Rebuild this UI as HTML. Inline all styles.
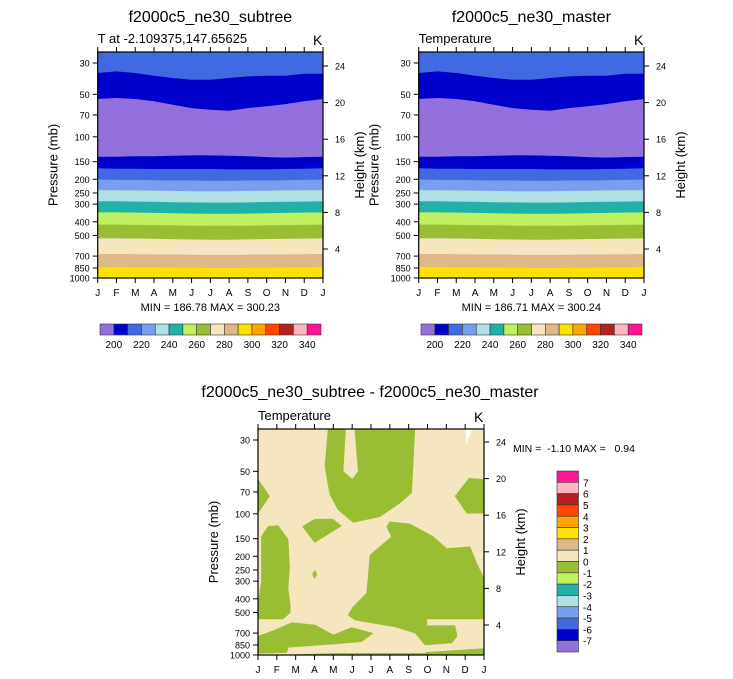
<!DOCTYPE html>
<html><head><meta charset="utf-8">
<style>
html,body{margin:0;padding:0;background:#fff;}
svg{display:block;font-family:"Liberation Sans",Arial,sans-serif;}
</style></head>
<body>
<svg id="chart" width="733" height="679" viewBox="0 0 733 679" xmlns="http://www.w3.org/2000/svg"></svg>
<script>
// ---------- data ----------
const months = ["J","F","M","A","M","J","J","A","S","O","N","D","J"];
const pressureTicks = [30,50,70,100,150,200,250,300,400,500,700,850,1000];
const heightTicks = [24,20,16,12,8,4];
// temperature contour boundaries (pressure, mb) at each month for the climatology panels
const bnd210top = [35.5,34.6,35.5,37.1,38.5,39.6,39.6,38.5,37.5,37.1,37.1,35.9,35.9];
const bnd200top = [54.2,53.4,54.2,56.3,59.6,62.9,64.7,65.7,62.9,61.1,58.9,56.3,54.2];
const bnd200bot = [139,139,138,138,137,136,136,137,138,140,141,140,139];
const bnd210bot = [168,169,169,170,170,170,170,171,171,171,170,169,168];
const bnd220 = [202,203,203,204,205,205,206,206,205,205,204,203,202];
const bnd230 = [240,240,241,242,243,244,244,244,243,242,241,240,240];
const bnd240 = [288,288,289,290,292,293,294,294,293,291,290,289,288];
const bnd250 = [345,345,346,348,350,352,353,353,352,350,348,346,345];
const bnd260 = [421,421,422,424,426,428,429,429,428,426,424,422,421];
const bnd270 = [527,527,528,531,534,537,538,538,536,533,531,529,527];
const bnd280 = [680,680,682,684,686,688,690,690,688,686,684,682,680];
const bnd290 = [841,841,843,846,849,852,855,856,853,850,847,844,841];
const colorbarLevels = [200,210,220,230,240,250,260,270,280,290,300,310,320,330,340];
const colorbarLabels = [200,220,240,260,280,300,320,340];
const diffLabels = [7,6,5,4,3,2,1,0,-1,-2,-3,-4,-5,-6,-7];
// difference panel: regions below 0 (month index, pressure mb)
const diffNegA = [[3.72,25],[4.65,25],[4.52,50],[5.02,57],[5.32,50],[5.14,25],[8.33,25],[8.16,71],[7.54,84],[6.47,105],[5.05,115],[4.26,94],[3.81,73],[3.55,46]];
const diffNegB = [[0,57],[0.62,75],[0,99]];
const diffNegC = [[12,57],[11.2,56],[10.46,75],[11.08,99],[12,99]];
const diffNegD = [[2.36,123],[3.01,109],[3.99,109],[4.43,122],[3.01,160]];
const diffNegE = [[0.18,145],[0.53,123],[1.06,121],[1.6,151],[1.68,237],[1.6,337],[1.72,455],[1.7,504],[1.33,556],[0,556],[0,450],[0.18,300]];
const diffNegF = [[3.01,250],[2.89,268],[3.01,288],[3.13,268]];
const diffNegG = [[7.0,114],[8.07,118],[9.31,145],[10.02,176],[11.26,171],[11.61,224],[12,286],[12,556],[8.97,556],[8.97,620],[10.46,620],[10.57,736],[10.3,822],[8.87,851],[8.34,700],[7.28,633],[5.15,566],[4.78,522],[5.05,455],[5.76,366],[5.85,279],[5.94,196],[7.09,145],[6.83,123]];
const diffNegH = [[0,736],[0.9,666],[1.79,590],[3.03,613],[4.0,721],[4.97,639],[6.12,701],[5.5,805],[4.09,836],[1.61,883],[1.52,963],[0,974]];
const diffNegI = [[8.9,1000],[8.9,960],[12,900],[12,1000]];
const diffNegJ = [[1.5,1000],[4,975],[8.9,975],[8.9,1000]];
const diffMissing = [[11.04,25],[11.4,25],[11.05,32]];

// ---------- drawing ----------
const NS="http://www.w3.org/2000/svg";
const svg=document.getElementById('chart');
const COLORS=["#9370DB","#0000CD","#4169E1","#7A9EEE","#B0E0E6","#20B2AA","#C0F060","#99BE33","#F5E6C0","#DEB887","#FFE000","#FFA500","#FF4500","#B22222","#FFB6C1","#FF1493"];
const PTOP=25.07;
function el(tag,attrs,parent){const e=document.createElementNS(NS,tag);for(const k in attrs)e.setAttribute(k,attrs[k]);(parent||svg).appendChild(e);return e;}
function txt(s,x,y,size,anchor,parent,rot){const t=el('text',{x:x,y:y,'font-size':size,'text-anchor':anchor||'start',fill:'#000'},parent);if(rot)t.setAttribute('transform','rotate('+rot+' '+x+' '+y+')');t.textContent=s;return t;}

function makePanel(P){
  P.xM=m=>P.x0+m*(P.x1-P.x0)/12;
  P.yP=p=>{const q=Math.max(p,PTOP);return P.y30+61.3*Math.log(q/30);};
  P.yH=h=>P.y24+(24-h)*9.15;
  return P;
}
function polyPts(P,arr){return arr.map(d=>P.xM(d[0]).toFixed(1)+','+P.yP(d[1]).toFixed(1)).join(' ');}

function drawAxes(P,g){
  el('rect',{x:P.x0,y:P.ytop,width:P.x1-P.x0,height:P.ybot-P.ytop,fill:'none',stroke:'#000','stroke-width':1.2},g);
  months.forEach((m,i)=>{
    const x=P.xM(i);
    el('line',{x1:x,y1:P.ybot,x2:x,y2:P.ybot+5,stroke:'#000'},g);
    el('line',{x1:x,y1:P.ytop,x2:x,y2:P.ytop-5,stroke:'#000'},g);
    const t=txt(m,x,P.ybot+18,10,'middle',g);
    
    
  });
  pressureTicks.forEach(p=>{
    const y=P.yP(p);
    el('line',{x1:P.x0-5,y1:y,x2:P.x0,y2:y,stroke:'#000'},g);
    const t=txt(String(p),P.x0-8,y+3.5,9,'end',g);
    
    
  });
  heightTicks.forEach(h=>{
    const y=P.yH(h);
    el('line',{x1:P.x1,y1:y,x2:P.x1+5,y2:y,stroke:'#000'},g);
    const t=txt(String(h),P.x1+12,y+3.5,9,'start',g);
    
    
  });
  const cy=(P.ytop+P.ybot)/2;
  const a=txt('Pressure (mb)',P.x0-40,cy,13,'middle',g,-90);
  
  
  const b=txt('Height (km)',P.x1+41,cy,13,'middle',g,-90);
  
  
  const k=txt('K',P.x1-10,P.ytop-7,14,'start',g);
  
  
}

function drawClimPanel(P,title,sub,minmax,name){
  const g=el('g',{});
  
  
  const bounds=[null,bnd210top,bnd200top,bnd200bot,bnd210bot,bnd220,bnd230,bnd240,bnd250,bnd260,bnd270,bnd280,bnd290,null];
  const bandColors=[2,1,0,1,2,3,4,5,6,7,8,9,10];
  for(let i=0;i<bounds.length-1;i++){
    const up=bounds[i], lo=bounds[i+1];
    const top=[],bot=[];
    for(let m=0;m<13;m++){
      top.push([m,up?up[m]:PTOP]);
      bot.push([m,lo?lo[m]:1000]);
    }
    const pts=top.concat(bot.reverse());
    const pg=el('polygon',{points:polyPts(P,pts),fill:COLORS[bandColors[i]],stroke:COLORS[bandColors[i]],'stroke-width':0.6},g);
    
    
  }
  drawAxes(P,g);
  const t=txt(title,(P.x0+P.x1)/2,22,16,'middle',g);
  
  
  const s=txt(sub,P.x0,P.ytop-9,13,'start',g);
  
  
  const mm=txt(minmax,(P.x0+P.x1)/2,P.ybot+33,11,'middle',g);
  
  
  // horizontal colorbar
  const cb=el('g',{},g);
  
  
  const cx0=P.x0+2.3, w=221/16, cy0=P.ybot+46;
  COLORS.forEach((c,i)=>{
    const r=el('rect',{x:cx0+i*w,y:cy0,width:w,height:11,fill:c,stroke:'#333','stroke-width':0.6},cb);
    
    
  });
  colorbarLabels.forEach(v=>{
    const idx=colorbarLevels.indexOf(v)+1;
    const t2=txt(String(v),cx0+idx*w,cy0+24,10,'middle',cb);
    
    
  });
}

const PL=makePanel({x0:97.7,x1:323,ytop:52,y30:63,ybot:278,y24:66});
const PR=makePanel({x0:418.7,x1:644,ytop:52,y30:63,ybot:278,y24:66});
const PB=makePanel({x0:258,x1:484,ytop:429,y30:440,ybot:655,y24:442});

drawClimPanel(PL,'f2000c5_ne30_subtree','T at -2.109375,147.65625','MIN = 186.78 MAX = 300.23','subtree-panel');
drawClimPanel(PR,'f2000c5_ne30_master','Temperature','MIN = 186.71 MAX = 300.24','master-panel');

// difference panel
const gd=el('g',{});


const bg=el('rect',{x:PB.x0,y:PB.ytop,width:PB.x1-PB.x0,height:PB.ybot-PB.ytop,fill:COLORS[8]},gd);


[diffNegA,diffNegB,diffNegC,diffNegD,diffNegE,diffNegF,diffNegG,diffNegH,diffNegI,diffNegJ].forEach(reg=>{
  const pg=el('polygon',{points:polyPts(PB,reg),fill:COLORS[7],stroke:COLORS[7],'stroke-width':0.5},gd);
  
  
});
const miss=el('polygon',{points:polyPts(PB,diffMissing),fill:'#fff'},gd);


drawAxes(PB,gd);
const dt=txt('f2000c5_ne30_subtree - f2000c5_ne30_master',370,397,16,'middle',gd);


const ds=txt('Temperature',PB.x0,PB.ytop-9,13,'start',gd);


const dm=txt('MIN =  -1.10 MAX =   0.94',513,452,10.5,'start',gd);
dm.setAttribute('style','white-space:pre');


// vertical colorbar
const vcb=el('g',{},gd);


const vh=181/16;
for(let i=0;i<16;i++){
  const r=el('rect',{x:557,y:471+i*vh,width:21.5,height:vh,fill:COLORS[15-i],stroke:'#333','stroke-width':0.6},vcb);
  
  
}
diffLabels.forEach((v,i)=>{
  const t=txt(String(v),583,471+(i+1)*vh+4,10,'start',vcb);
  
  
});
</script>
</body></html>
